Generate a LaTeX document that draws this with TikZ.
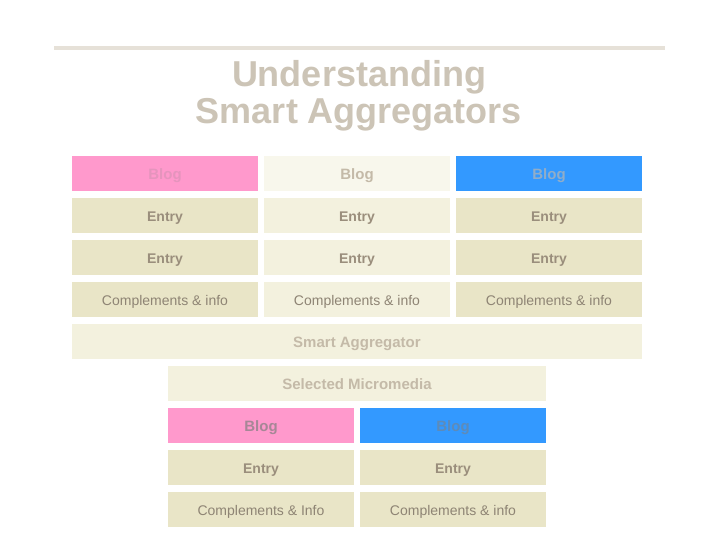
\documentclass[tikz,border=0pt]{standalone}
\usepackage{fontspec}
\setmainfont{Liberation Sans}

\definecolor{rulegray}{HTML}{E6E1D8}
\definecolor{titlegray}{HTML}{CCC4B6}
\definecolor{blogpink}{HTML}{FF99CC}
\definecolor{blogblue}{HTML}{3399FF}
\definecolor{paleivory}{HTML}{F8F7EC}
\definecolor{beige}{HTML}{E9E5C7}
\definecolor{lightbeige}{HTML}{F3F1DE}
\definecolor{entrytext}{HTML}{9A8E7C}
\definecolor{infotext}{HTML}{8E8474}
\definecolor{labeltext}{HTML}{C4BAA8}

\begin{document}
\begin{tikzpicture}[x=1pt,y=-1pt,
    cell/.style={minimum width=186pt,minimum height=35pt,inner sep=0pt,text height=12pt,text depth=0pt},
    blogcell/.style={cell,font=\bfseries\fontsize{15}{17}\selectfont},
    entrycell/.style={cell,fill=beige,text=entrytext,font=\bfseries\fontsize{14}{16}\selectfont},
    infocell/.style={cell,fill=beige,text=infotext,font=\fontsize{14}{16}\selectfont},
    widecell/.style={cell,fill=lightbeige,text=labeltext,font=\bfseries\fontsize{15}{17}\selectfont}]
    \useasboundingbox (0,0) rectangle (720,540);
    \fill[white] (0,0) rectangle (720,540);

    % title
    \draw[rulegray, line width=4pt] (54,48) -- (665,48);
    \node[text=titlegray, align=center, font=\bfseries\fontsize{36}{37}\selectfont] (title) at (359,96)
        {Understanding\\Smart Aggregators};

    % three sources
    \node[blogcell, fill=blogpink, text=blogpink!80!gray] (blogA) at (165,173.5) {Blog};
    \node[blogcell, fill=paleivory, text=labeltext] (blogB) at (357,173.5) {Blog};
    \node[blogcell, fill=blogblue, text=blogblue!40!gray!70] (blogC) at (549,173.5) {Blog};

    \node[entrycell] (entryA1) at (165,215.5) {Entry};
    \node[entrycell, fill=lightbeige] (entryB1) at (357,215.5) {Entry};
    \node[entrycell] (entryC1) at (549,215.5) {Entry};

    \node[entrycell] (entryA2) at (165,257.5) {Entry};
    \node[entrycell, fill=lightbeige] (entryB2) at (357,257.5) {Entry};
    \node[entrycell] (entryC2) at (549,257.5) {Entry};

    \node[infocell] (infoA) at (165,299.5) {Complements \& info};
    \node[infocell, fill=lightbeige] (infoB) at (357,299.5) {Complements \& info};
    \node[infocell] (infoC) at (549,299.5) {Complements \& info};

    % aggregator
    \node[widecell, minimum width=570pt] (aggregator) at (357,341.5) {Smart Aggregator};
    \node[widecell, minimum width=378pt] (selected) at (357,383.5) {Selected Micromedia};

    % selection
    \node[blogcell, fill=blogpink, text=blogpink!30!gray] (selA) at (261,425.5) {Blog};
    \node[blogcell, fill=blogblue, text=blogblue!45!gray] (selB) at (453,425.5) {Blog};

    \node[entrycell] (selEntryA) at (261,467.5) {Entry};
    \node[entrycell] (selEntryB) at (453,467.5) {Entry};

    \node[infocell] (selInfoA) at (261,509.5) {Complements \& Info};
    \node[infocell] (selInfoB) at (453,509.5) {Complements \& info};
\end{tikzpicture}
\end{document}
